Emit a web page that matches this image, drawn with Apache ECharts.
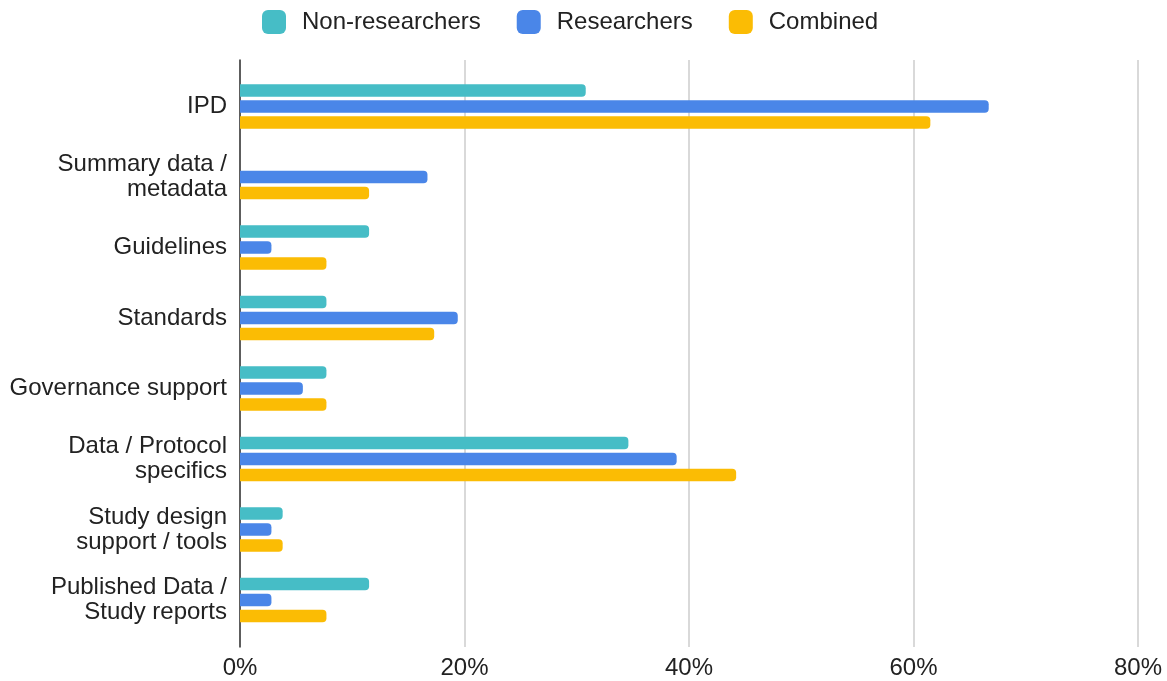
<!DOCTYPE html>
<html>
<head>
<meta charset="utf-8">
<title>Requested support by respondent group</title>
<script src="https://cdn.jsdelivr.net/npm/echarts@6/dist/echarts.min.js"></script>
<style>
  html, body { margin: 0; padding: 0; background: #ffffff; }
  #chart { width: 1167px; height: 681px; }
</style>
</head>
<body>
<div id="chart"></div>
<script>
// Categories (top to bottom)
const categories = [
  'IPD',
  'Summary data /\nmetadata',
  'Guidelines',
  'Standards',
  'Governance support',
  'Data / Protocol\nspecifics',
  'Study design\nsupport / tools',
  'Published Data /\nStudy reports'
];

// Share of respondents per group (fractions)
const nonResearchers = [0.308, 0, 0.115, 0.077, 0.077, 0.346, 0.038, 0.115];
const researchers    = [0.667, 0.167, 0.028, 0.194, 0.056, 0.389, 0.028, 0.028];
const combined       = [0.615, 0.115, 0.077, 0.173, 0.077, 0.442, 0.038, 0.077];

const seriesNames = ['Non-researchers', 'Researchers', 'Combined'];
const seriesColors = ['#46BDC6', '#4A86E8', '#FBBC04'];

// Value axis ticks
const axisMin = 0;
const axisMax = 0.8;
const axisStep = 0.2;

const FONT = '"Liberation Sans", Arial, sans-serif';
const TEXT = '#222222';

const chart = echarts.init(document.getElementById('chart'), null, { renderer: 'canvas' });

const seriesData = [nonResearchers, researchers, combined];

const option = {
  backgroundColor: '#ffffff',
  animation: false,
  legend: {
    top: 5,
    left: 257,
    itemWidth: 24,
    itemHeight: 24,
    itemGap: 36,
    icon: 'roundRect',
    textStyle: { fontFamily: FONT, fontSize: 24, color: TEXT, padding: [0, 0, 0, 11] },
    data: seriesNames
  },
  grid: [
    // frame: gridlines, percent labels and left axis line
    { left: 240, right: 29, top: 60, bottom: 34 },
    // bars and category labels
    { left: 240, right: 29, top: 71.25, bottom: 45.75 }
  ],
  xAxis: [
    {
      gridIndex: 0,
      type: 'value',
      min: axisMin,
      max: axisMax,
      interval: axisStep,
      axisLine: { show: false },
      axisTick: { show: false },
      splitLine: { show: true, lineStyle: { color: '#cccccc', width: 1.5 } },
      axisLabel: {
        margin: 9,
        fontFamily: FONT,
        fontSize: 24,
        color: TEXT,
        formatter: v => Math.round(v * 100) + '%'
      }
    },
    {
      gridIndex: 1,
      type: 'value',
      min: axisMin,
      max: axisMax,
      interval: axisStep,
      show: false
    }
  ],
  yAxis: [
    {
      gridIndex: 0,
      type: 'category',
      data: [''],
      axisLine: { show: true, lineStyle: { color: '#333333', width: 1.5 } },
      axisTick: { show: false },
      axisLabel: { show: false },
      splitLine: { show: false }
    },
    {
      gridIndex: 1,
      type: 'category',
      inverse: true,
      data: categories,
      axisLine: { show: false },
      axisTick: { show: false },
      axisLabel: {
        margin: 13,
        fontFamily: FONT,
        fontSize: 24,
        lineHeight: 25,
        color: TEXT,
        align: 'right'
      }
    }
  ],
  series: seriesNames.map((name, i) => ({
    name: name,
    type: 'bar',
    xAxisIndex: 1,
    yAxisIndex: 1,
    data: seriesData[i],
    barWidth: 12.5,
    barGap: '28%',
    itemStyle: { color: seriesColors[i], borderRadius: [0, 4, 4, 0] }
  }))
};

chart.setOption(option);
</script>
</body>
</html>
